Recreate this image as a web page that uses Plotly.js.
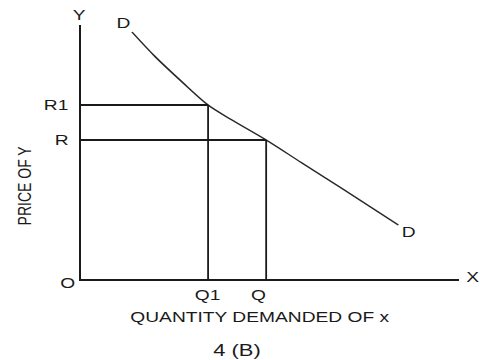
<!DOCTYPE html>
<html>
<head>
<meta charset="utf-8">
<script src="https://cdn.plot.ly/plotly-3.0.1.min.js"></script>
<style>
  html, body { margin: 0; padding: 0; background: #ffffff; overflow: hidden; }
  #wrap { width: 480px; height: 360px; overflow: hidden; }
  #chart { width: 350px; height: 360px; transform: scaleX(1.3714); transform-origin: 0 0; }
</style>
</head>
<body>
<div id="wrap"><div id="chart"></div></div>
<script>
// Demand curve D-D (quantity of x vs price of y)
var curveQty   = [51, 74, 100, 127, 150, 185, 220, 260, 317];
var curvePrice = [247, 222.5, 198, 174, 159.5, 139, 116.5, 91, 54];

// Marked points on the curve
var pointLabelsQ = ['Q1', 'Q'];
var pointQty     = [127, 185];
var pointLabelsR = ['R1', 'R'];
var pointPrice   = [174, 139];

var XR = [0, 378], YR = [0, 254];
var S = 1.3714;           // horizontal stretch of the original picture
var ink = '#1a1a1a';
var fnt = 'Liberation Sans, Arial, sans-serif';

var traces = [];
traces.push({
  x: curveQty, y: curvePrice, type: 'scatter', mode: 'lines',
  line: {color: '#2a2a2a', width: 1.3, shape: 'spline', smoothing: 0.9},
  cliponaxis: false, hoverinfo: 'skip'
});
for (var i = 0; i < pointQty.length; i++) {
  traces.push({
    x: [0, pointQty[i]], y: [pointPrice[i], pointPrice[i]],
    type: 'scatter', mode: 'lines',
    line: {color: ink, width: 1.8}, cliponaxis: false, hoverinfo: 'skip'
  });
  traces.push({
    x: [pointQty[i], pointQty[i]], y: [0, pointPrice[i]],
    type: 'scatter', mode: 'lines',
    line: {color: ink, width: 1.8 / S}, cliponaxis: false, hoverinfo: 'skip'
  });
}

// annotation placed at axis-unit position (converted to paper fraction so it may sit outside the plot)
function ann(text, x, y, opts) {
  var a = {text: text,
           x: (x - XR[0]) / (XR[1] - XR[0]), y: (y - YR[0]) / (YR[1] - YR[0]),
           xref: 'paper', yref: 'paper', showarrow: false,
           font: {family: fnt, size: 14, color: ink}, xanchor: 'center', yanchor: 'middle'};
  for (var k in (opts || {})) a[k] = opts[k];
  return a;
}

var annotations = [
  ann('Y', -1, 264),
  ann('D', 42, 256),
  ann('D', 328, 47),
  ann('X', 392, 2),
  ann('O', -13, -4),
  ann('PRICE OF Y', -57, 94, {textangle: -90}),
  ann('QUANTITY DEMANDED OF x', 179, -38)
];
var qShift = [0, -7];
var rShift = [0, -1];
for (var j = 0; j < pointQty.length; j++) {
  annotations.push(ann(pointLabelsQ[j], pointQty[j] + qShift[j], -16));
  annotations.push(ann(pointLabelsR[j], -9 + rShift[j], pointPrice[j], {xanchor: 'right'}));
}

var layout = {
  width: 350, height: 360,
  margin: {l: 81 / S, r: 21 / S, t: 25, b: 81, pad: 0},
  paper_bgcolor: '#ffffff', plot_bgcolor: '#ffffff',
  showlegend: false,
  title: {text: '4 (B)', x: 237 / 480, y: 1 - 350 / 360, xref: 'container', yref: 'container',
          xanchor: 'center', yanchor: 'middle', font: {family: fnt, size: 16, color: ink}},
  xaxis: {range: XR, showgrid: false, zeroline: false, showticklabels: false, ticks: '',
          showline: true, linecolor: ink, linewidth: 2, fixedrange: true},
  yaxis: {range: YR, showgrid: false, zeroline: false, showticklabels: false, ticks: '',
          showline: true, linecolor: ink, linewidth: 2 / S, fixedrange: true},
  annotations: annotations
};

Plotly.newPlot('chart', traces, layout, {staticPlot: true, displayModeBar: false});
</script>
</body>
</html>
